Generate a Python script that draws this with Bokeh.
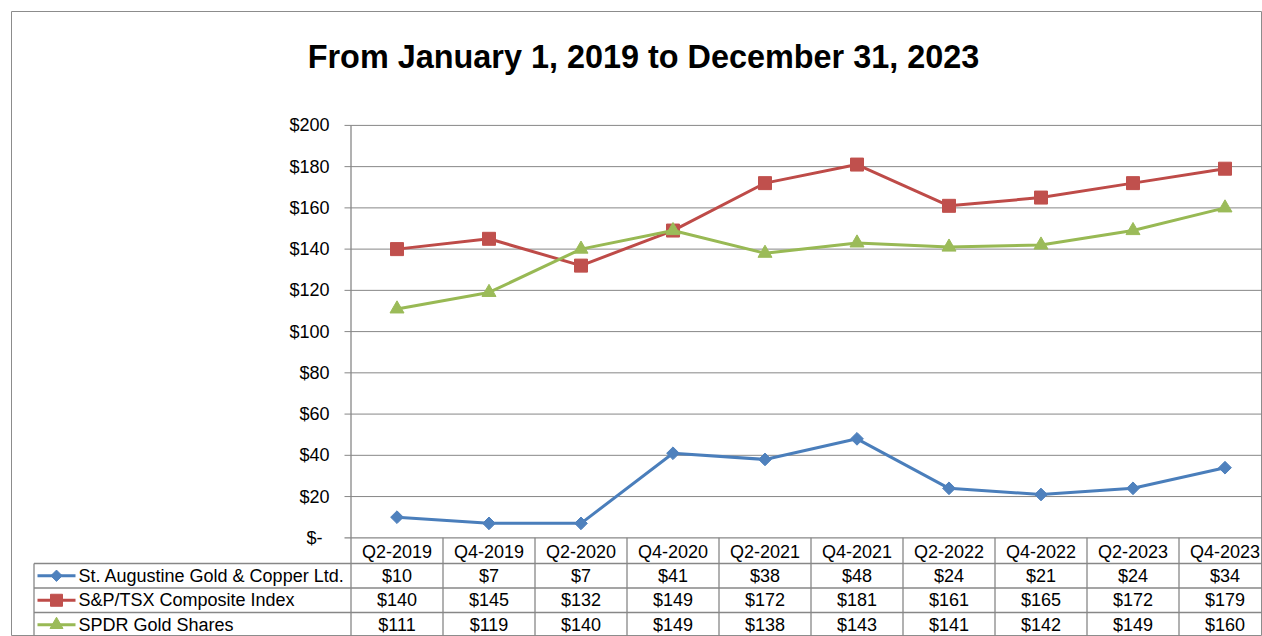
from bokeh.plotting import figure
from bokeh.models import Range1d
from bokeh.core.properties import value
from bokeh.embed import file_html
from bokeh.resources import INLINE
import numpy as np

# ---------------- data ----------------
title_text = "From January 1, 2019 to December 31, 2023"
quarters = ["Q2-2019", "Q4-2019", "Q2-2020", "Q4-2020", "Q2-2021",
            "Q4-2021", "Q2-2022", "Q4-2022", "Q2-2023", "Q4-2023"]
series_names = ["St. Augustine Gold & Copper Ltd.", "S&P/TSX Composite Index", "SPDR Gold Shares"]
st_augustine = [10, 7, 7, 41, 38, 48, 24, 21, 24, 34]
sp_tsx = [140, 145, 132, 149, 172, 181, 161, 165, 172, 179]
spdr_gold = [111, 119, 140, 149, 138, 143, 141, 142, 149, 160]
y_ticks = [0, 20, 40, 60, 80, 100, 120, 140, 160, 180, 200]
y_tick_labels = ["$-", "$20", "$40", "$60", "$80", "$100", "$120", "$140", "$160", "$180", "$200"]

# ---------------- styles ----------------
line_colors = ["#4A7EBB", "#BE4B48", "#98B954"]
fill_colors = ["#4F81BD", "#C0504D", "#9BBB59"]
markers = ["square", "square", "triangle"]
marker_angles = [np.pi / 4, 0, 0]
marker_sizes = [9, 13, 14]
FONT = value("Liberation Sans")
GRID = "#878787"

# layout (canvas pixels) -> data conversion
KX = 92.0          # px per category
AX_PX = 350.5      # y-axis position (left edge of first category band)
KY = 2.062         # px per dollar
Y0_PX = 537.3      # y pixel of $0


def dx(px):
    return (px - AX_PX) / KX - 0.5


def dy(px):
    return (Y0_PX - px) / KY


W, H = 1262, 636
x_start, x_end = dx(11), dx(W)
y_start, y_end = dy(H), dy(11)

p = figure(width=W, height=H, x_range=Range1d(x_start, x_end), y_range=Range1d(y_start, y_end),
           output_backend="svg", toolbar_location=None, title=None,
           x_axis_location=None, y_axis_location=None,
           min_border_left=11, min_border_top=11, min_border_right=0, min_border_bottom=0)
p.xgrid.grid_line_color = None
p.ygrid.grid_line_color = None
p.outline_line_color = "#8c8c8c"
p.outline_line_width = 1
p.background_fill_color = "white"
p.border_fill_color = "white"

# title
p.text(x=[dx(643)], y=[dy(56)], text=[title_text], text_align="center",
       text_baseline="alphabetic", text_font=FONT, text_font_style="bold",
       text_font_size="32.4px", text_color="black")

# gridlines + tick marks
gl = [t for t in y_ticks if t > 0]
p.segment(x0=[dx(344)] * len(gl), y0=gl, x1=[x_end] * len(gl), y1=gl,
          line_color=GRID, line_width=1)
# x axis line (header top)
p.segment(x0=[dx(344)], y0=[0], x1=[x_end], y1=[0], line_color=GRID, line_width=1.3)
# y axis line + column boundaries of the table
n = len(quarters)
bottom = y_start
p.segment(x0=[-0.5], y0=[max(y_ticks)], x1=[-0.5], y1=[bottom], line_color=GRID, line_width=1.3)
bx = [k - 0.5 for k in range(1, n + 1)]
p.segment(x0=bx, y0=[0] * n, x1=bx, y1=[bottom] * n, line_color=GRID, line_width=1.3)

# table rows
row_h = 24.5
row_tops = [563.0, 563.0 + row_h, 563.0 + 2 * row_h]
ry = [dy(r) for r in row_tops]
p.segment(x0=[dx(33.5)] * 3, y0=ry, x1=[x_end] * 3, y1=ry, line_color=GRID, line_width=1.3)
p.segment(x0=[dx(33.5)], y0=[ry[0]], x1=[dx(33.5)], y1=[bottom], line_color=GRID, line_width=1.3)

# y tick labels
offs = [-7 if t == 0 else 0 for t in y_ticks]
p.text(x=[dx(329)] * len(y_ticks), y=y_ticks, text=y_tick_labels, x_offset=offs,
       text_align="right", text_baseline="middle", text_font=FONT,
       text_font_size="18px", text_color="black")

# header labels
idx = list(range(n))
p.text(x=idx, y=[dy(551)] * n, text=quarters, text_align="center", text_baseline="middle",
       text_font=FONT, text_font_size="18px", text_color="black")

# series lines and markers
all_series = [st_augustine, sp_tsx, spdr_gold]
for k, vals in enumerate(all_series):
    p.line(x=idx, y=vals, line_color=line_colors[k], line_width=3)
    p.scatter(x=idx, y=vals, marker=markers[k], size=marker_sizes[k], angle=marker_angles[k],
              fill_color=fill_colors[k], line_color=fill_colors[k])

# table body
for k, vals in enumerate(all_series):
    cy = dy(row_tops[k] + row_h / 2)
    p.text(x=idx, y=[cy] * n, text=["$" + str(v) for v in vals], text_align="center",
           text_baseline="middle", text_font=FONT, text_font_size="18px", text_color="black")
    # legend key
    p.segment(x0=[dx(37)], y0=[cy], x1=[dx(75)], y1=[cy], line_color=line_colors[k], line_width=3)
    p.scatter(x=[dx(56)], y=[cy], marker=markers[k], size=marker_sizes[k] - 1, angle=marker_angles[k],
              fill_color=fill_colors[k], line_color=fill_colors[k])
    p.text(x=[dx(78)], y=[cy], text=[series_names[k]], text_align="left", text_baseline="middle",
           text_font=FONT, text_font_size="18px", text_color="black")

open("out.html", "w").write(file_html(p, INLINE))
